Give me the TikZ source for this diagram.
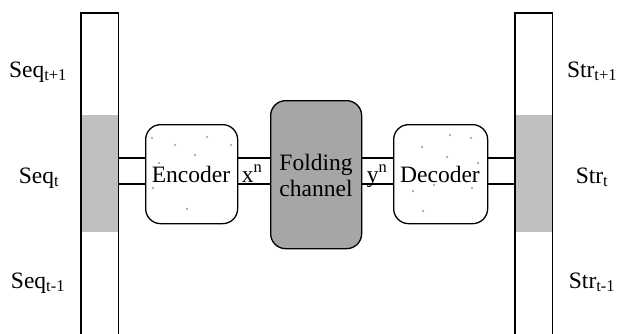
\documentclass[tikz,border=0pt]{standalone}
\usepackage{fontspec}
\setmainfont{Liberation Serif}
\begin{document}
\begin{tikzpicture}[x=1pt,y=-1pt,
  lbl/.style={font=\fontsize{23.5}{26}\selectfont, inner sep=0pt, anchor=base},
  bar/.style={minimum width=37pt, inner sep=0pt, anchor=north west},
  blk/.style={draw, line width=1.3pt, rounded corners=15pt, inner sep=0pt, anchor=north west, align=center},
  wire/.style={line width=1.3pt},
  speck/.style={fill=gray!80, draw=none}
]
\useasboundingbox (0,0) rectangle (619,333);
% bars
\node[bar, minimum height=325pt] (barL) at (81,13) {};
\node[bar, minimum height=117pt, fill=black!25] (barLg) at (81,115) {};
\draw[wire] (barL.south west) -- (barL.north west) -- (barL.north east) -- (barL.south east);
\node[bar, minimum height=325pt] (barR) at (515,13) {};
\node[bar, minimum height=117pt, fill=black!25] (barRg) at (515,115) {};
\draw[wire] (barR.south west) -- (barR.north west) -- (barR.north east) -- (barR.south east);
% blocks
\node[blk, fill=white, minimum width=92pt, minimum height=99pt] (enc) at (145,124) {};
\node[blk, fill=black!35, minimum width=91pt, minimum height=148pt] (ch) at (270,100) {};
\node[blk, fill=white, minimum width=94pt, minimum height=99pt] (dec) at (393,124) {};
% specks
\foreach \p in {(152,138),(175,145),(207,137),(231,145),(195,155),(159,163),(153,188),(187,209),
                (450,135),(471,138),(422,147),(478,163),(413,191),(434,185),(472,188),(423,211),(447,157)}
  \fill[speck] \p circle (1.1pt);
% texts
\node[lbl] (enct) at (191,182) {Encoder};
\node[lbl] (dect) at (440,182) {Decoder};
\node[lbl, align=center, anchor=center] (cht) at (316,175) {Folding\\channel};
\node[lbl] (xn) at (252,182) {x\textsuperscript{n}};
\node[lbl] (yn) at (377,182) {y\textsuperscript{n}};
% wires
\foreach \yy in {158,184} {
  \draw[wire] (barL.east |- 0,\yy) -- (enc.west |- 0,\yy);
  \draw[wire] (enc.east |- 0,\yy) -- (ch.west |- 0,\yy);
  \draw[wire] (ch.east |- 0,\yy) -- (dec.west |- 0,\yy);
  \draw[wire] (dec.east |- 0,\yy) -- (barR.west |- 0,\yy);
}
% side labels
\node[lbl] (s1) at (38,77) {Seq\textsubscript{t+1}};
\node[lbl] (s2) at (39,183) {Seq\textsubscript{t}};
\node[lbl] (s3) at (38,288) {Seq\textsubscript{t-1}};
\node[lbl] (r1) at (592,77) {Str\textsubscript{t+1}};
\node[lbl] (r2) at (592,183) {Str\textsubscript{t}};
\node[lbl] (r3) at (592,288) {Str\textsubscript{t-1}};
\end{tikzpicture}
\end{document}
